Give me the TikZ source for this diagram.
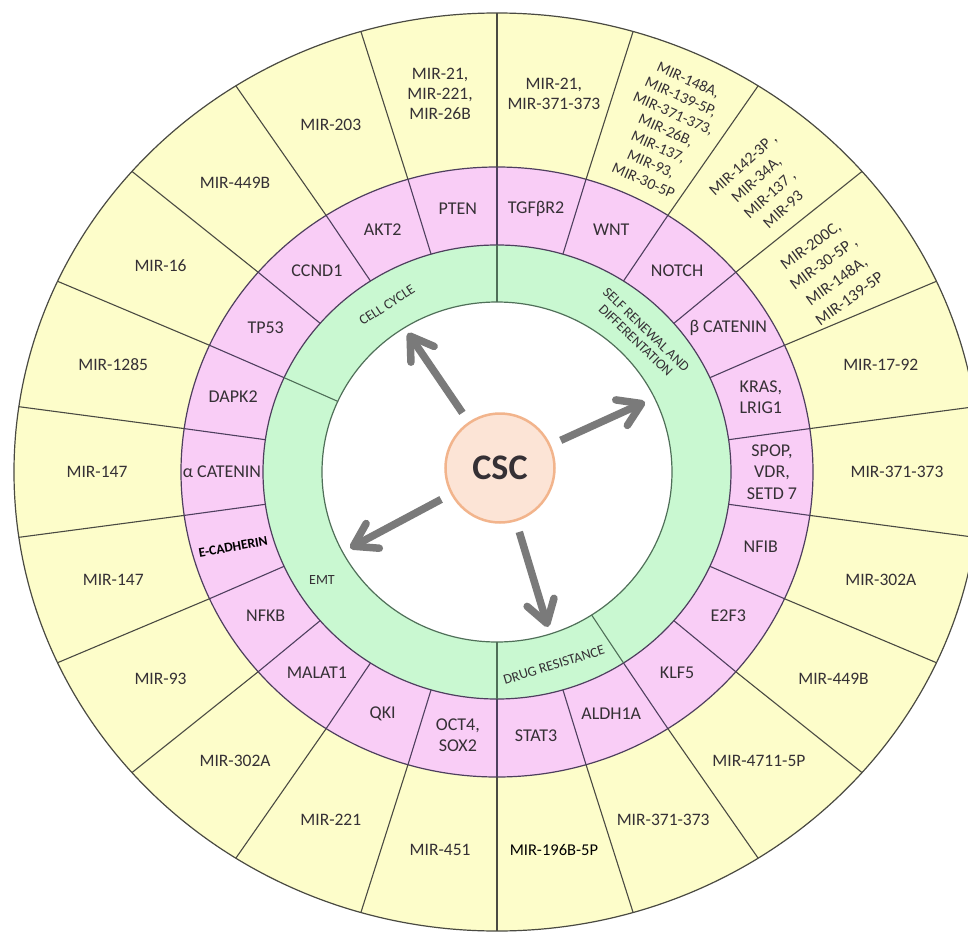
\documentclass[tikz,border=0pt]{standalone}
\usepackage{fontspec}
\setmainfont{Carlito}
\usetikzlibrary{arrows.meta}
\definecolor{ycol}{HTML}{FDFDCA}
\definecolor{pcol}{HTML}{F9CDF6}
\definecolor{gcol}{HTML}{C9F8D1}
\definecolor{txt}{HTML}{353035}
\definecolor{lincol}{HTML}{4A4A42}
\definecolor{pline}{HTML}{4E3F5E}
\definecolor{gline}{HTML}{4F6F58}
\definecolor{arr}{HTML}{7A7A7A}
\definecolor{cscfill}{HTML}{FCE4D6}
\definecolor{cscline}{HTML}{F2B48C}
\newcommand\myY[3]{\node[ylab] (#1) at ({400*cos(#2)},{382*sin(#2)}) {#3};}
\newcommand\myP[3]{\node[plab] (#1) at ({275*cos(#2)},{266*sin(#2)}) {#3};}
\begin{document}
\begin{tikzpicture}[x=1pt,y=1pt,
  ylab/.style={text=txt, font=\fontsize{17.5}{20}\selectfont, align=center, inner sep=0pt},
  rlab/.style={text=txt, align=center, inner sep=0pt},
  plab/.style={text=txt, font=\fontsize{18}{21.5}\selectfont, align=center, inner sep=0pt},
  glab/.style={text=txt, font=\fontsize{14}{15}\selectfont, align=center, inner sep=0pt},
  ringline/.style={line width=1.2pt},
  arrowline/.style={draw=arr, line width=7.5pt, -{Straight Barb[round,length=22pt,width=28pt]}, shorten <=11pt}
]
\useasboundingbox (-497,-460) rectangle (471,472);
\fill[white] (-497,-460) rectangle (471,472);
% rings
\filldraw[fill=ycol, draw=lincol, ringline] (0,0) ellipse [x radius=483, y radius=459];
\filldraw[fill=pcol, draw=pline, ringline] (0,0) ellipse [x radius=316, y radius=305];
\filldraw[fill=gcol, draw=pline, ringline] (0,0) ellipse [x radius=234, y radius=227];
\filldraw[fill=white, draw=gline, ringline] (0,0) ellipse [x radius=175, y radius=170];
% dividers
\foreach \k in {0,...,21} {
  \pgfmathsetmacro\a{90-\k*360/22}
  \draw[draw=lincol, line width=1.1pt] ({316*cos(\a)},{305*sin(\a)}) -- ({483*cos(\a)},{459*sin(\a)});
  \draw[draw=pline, line width=1.1pt] ({234*cos(\a)},{227*sin(\a)}) -- ({316*cos(\a)},{305*sin(\a)});
}
\foreach \a in {90,155.4545,270,302.7273} {
  \draw[draw=gline, line width=1.1pt] ({175*cos(\a)},{170*sin(\a)}) -- ({234*cos(\a)},{227*sin(\a)});
}
% yellow labels
\myY{y0}{81.82}{MIR-21,\\MIR-371-373}
\node[rlab, font=\fontsize{15.5}{18.4}\selectfont, rotate=-24] (y1) at (169,342) {MIR-148A,\\MIR-139-5P,\\MIR-371-373,\\MIR-26B,\\MIR-137,\\MIR-93,\\MIR-30-5P};
\node[rlab, font=\fontsize{16}{20}\selectfont, rotate=42] (y2) at (266,285) {MIR-142-3P ,\\MIR-34A,\\MIR-137 ,\\MIR-93};
\node[rlab, font=\fontsize{16.5}{22}\selectfont, rotate=36] (y3) at (333,200) {MIR-200C,\\MIR-30-5P ,\\MIR-148A,\\MIR-139-5P};
\myY{y4}{16.36}{MIR-17-92}
\myY{y5}{0}{MIR-371-373}
\myY{y6}{-16.36}{MIR-302A}
\myY{y7}{-32.73}{MIR-449B}
\myY{y8}{-49.09}{MIR-4711-5P}
\myY{y9}{-65.45}{MIR-371-373}
\node[ylab, text=black, font=\fontsize{16.5}{20}\selectfont] (y10) at ({400*cos(-81.82)},{382*sin(-81.82)}) {MIR-196B-5P};
\myY{y11}{-98.18}{MIR-451}
\myY{y12}{-114.55}{MIR-221}
\myY{y13}{-130.91}{MIR-302A}
\myY{y14}{-147.27}{MIR-93}
\myY{y15}{-163.64}{MIR-147}
\myY{y16}{-180}{MIR-147}
\myY{y17}{-196.36}{MIR-1285}
\myY{y18}{-212.73}{MIR-16}
\myY{y19}{-229.09}{MIR-449B}
\myY{y20}{-245.45}{MIR-203}
\myY{y21}{-261.82}{MIR-21,\\MIR-221,\\MIR-26B}
% pink labels
\myP{p0}{81.82}{TGFβR2}
\myP{p1}{65.45}{WNT}
\myP{p2}{49.09}{NOTCH}
\myP{p3}{32.73}{β CATENIN}
\myP{p4}{16.36}{KRAS,\\LRIG1}
\myP{p5}{0}{SPOP,\\VDR,\\SETD 7}
\myP{p6}{-16.36}{NFIB}
\myP{p7}{-32.73}{E2F3}
\myP{p8}{-49.09}{KLF5}
\myP{p9}{-65.45}{ALDH1A}
\myP{p10}{-81.82}{STAT3}
\myP{p11}{-98.18}{OCT4,\\SOX2}
\myP{p12}{-114.55}{QKI}
\myP{p13}{-130.91}{MALAT1}
\myP{p14}{-147.27}{NFKB}
\node[plab, text=black, font=\bfseries\fontsize{13.5}{16}\selectfont, rotate=10] (p15) at ({275*cos(-163.64)},{266*sin(-163.64)}) {E-CADHERIN};
\myP{p16}{-180}{α CATENIN}
\myP{p17}{-196.36}{DAPK2}
\myP{p18}{-212.73}{TP53}
\myP{p19}{-229.09}{CCND1}
\myP{p20}{-245.45}{AKT2}
\myP{p21}{-261.82}{PTEN}
% green labels
\node[glab, rotate=33] (g1) at (-110,167) {CELL CYCLE};
\node[glab, rotate=-44] (g2) at (144,137) {SELF RENEWAL AND\\DIFFERENTATION};
\node[glab, rotate=17] (g3) at (57,-193) {DRUG RESISTANCE};
\node[glab] (g4) at (-175,-108) {EMT};
% centre
\node[circle, fill=cscfill, draw=cscline, line width=2.5pt, minimum size=109pt, inner sep=0pt,
      text=txt, font=\bfseries\fontsize{36}{40}\selectfont] (csc) at (3,4) {CSC};
\coordinate (t1) at (-89,139);
\coordinate (t2) at (148,70);
\coordinate (t3) at (-147,-76);
\coordinate (t4) at (51,-155);
\draw[arrowline] (csc) -- (t1);
\draw[arrowline] (csc) -- (t2);
\draw[arrowline] (csc) -- (t3);
\draw[arrowline] (csc) -- (t4);
\end{tikzpicture}
\end{document}
